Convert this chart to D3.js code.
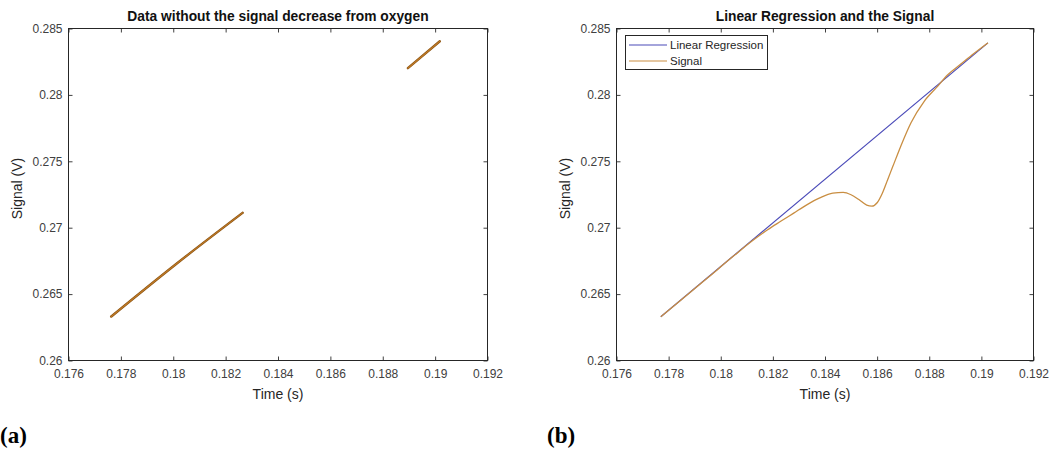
<!DOCTYPE html>
<html>
<head>
<meta charset="utf-8">
<script src="https://cdn.jsdelivr.net/npm/d3@7"></script>
<style>
  html, body { margin: 0; padding: 0; background: #fff; }
  svg { display: block; }
  text { font-family: "Liberation Sans", Arial, sans-serif; }
</style>
</head>
<body>
<svg id="fig" width="1056" height="450"></svg>
<script>
// Shared axis ranges and tick values
const xTicks = [0.176, 0.178, 0.18, 0.182, 0.184, 0.186, 0.188, 0.19, 0.192];
const yTicks = [0.26, 0.265, 0.27, 0.275, 0.28, 0.285];
const xTickLabels = ["0.176", "0.178", "0.18", "0.182", "0.184", "0.186", "0.188", "0.19", "0.192"];
const yTickLabels = ["0.26", "0.265", "0.27", "0.275", "0.28", "0.285"];

// (a) signal with the oxygen dip removed: two remaining pieces
const baselineEarly = [
  [0.17763, 0.26331], [0.1801, 0.26725], [0.18265, 0.27112]
];
const baselineLate = [
  [0.18896, 0.28201], [0.19018, 0.28404]
];

// (b) linear regression through the baseline, and the full signal
const regression = [[0.1777, 0.2633], [0.19025, 0.28392]];
const signal = [
  [0.1777, 0.2633], [0.1785, 0.26459], [0.1795, 0.26623], [0.1805, 0.26788],
  [0.1812, 0.26900], [0.1818, 0.26985], [0.1823, 0.27048], [0.1828, 0.27110],
  [0.1833, 0.27172], [0.1838, 0.27224], [0.1843, 0.27260], [0.1847, 0.27266],
  [0.1850, 0.27248], [0.1853, 0.27212], [0.1856, 0.27170], [0.1858, 0.27162],
  [0.1860, 0.27188], [0.1862, 0.27260], [0.1864, 0.27360], [0.1866, 0.27460],
  [0.1869, 0.27610], [0.1873, 0.27790], [0.1878, 0.27950], [0.1883, 0.28060],
  [0.1887, 0.28150], [0.1892, 0.28230], [0.1897, 0.28310], [0.19025, 0.28392]
];

const svg = d3.select("#fig");
const frameColor = "#262626";
const tickColor = "#404040";
const sansFont = "'Liberation Sans', Arial, sans-serif";

function drawPanel(opts) {
  const { left, right, top, bottom, title, tag, tagX } = opts;
  const x = d3.scaleLinear().domain([0.176, 0.192]).range([left, right]);
  const y = d3.scaleLinear().domain([0.26, 0.285]).range([bottom, top]);
  const g = svg.append("g");

  // bottom and left axes with labels, ticks pointing inward
  const xAxis = d3.axisBottom(x).tickValues(xTicks)
    .tickFormat((d, i) => xTickLabels[i]).tickSizeInner(-4).tickSizeOuter(0).tickPadding(9);
  const gx = g.append("g").attr("transform", `translate(0,${bottom})`).call(xAxis);
  const yAxis = d3.axisLeft(y).tickValues(yTicks)
    .tickFormat((d, i) => yTickLabels[i]).tickSizeInner(-4).tickSizeOuter(0).tickPadding(6);
  const gy = g.append("g").attr("transform", `translate(${left},0)`).call(yAxis);
  // top and right ticks (boxed axes)
  const gt = g.append("g").attr("transform", `translate(0,${top})`)
    .call(d3.axisTop(x).tickValues(xTicks).tickFormat("").tickSizeInner(-4).tickSizeOuter(0));
  const gr = g.append("g").attr("transform", `translate(${right},0)`)
    .call(d3.axisRight(y).tickValues(yTicks).tickFormat("").tickSizeInner(-4).tickSizeOuter(0));

  [gx, gy, gt, gr].forEach(a => {
    a.select(".domain").remove();
    a.selectAll(".tick line").attr("stroke", tickColor).attr("stroke-width", 1);
    a.selectAll(".tick text").attr("fill", "#404040").style("font-size", "12px")
      .style("font-family", sansFont);
  });
  gy.selectAll(".tick text").attr("dy", "0.32em");

  // frame
  g.append("rect").attr("x", left).attr("y", top)
    .attr("width", right - left).attr("height", bottom - top)
    .attr("fill", "none").attr("stroke", frameColor).attr("stroke-width", 1);

  // titles and labels
  g.append("text").attr("x", (left + right) / 2).attr("y", top - 7.5)
    .attr("text-anchor", "middle").style("font-size", "13.8px").style("font-weight", "bold")
    .style("font-family", sansFont).attr("fill", "#111").text(title);
  g.append("text").attr("x", (left + right) / 2).attr("y", bottom + 38)
    .attr("text-anchor", "middle").style("font-size", "14px").style("font-family", sansFont)
    .attr("fill", "#262626").text("Time (s)");
  g.append("text")
    .attr("transform", `translate(${left - 47},${(top + bottom) / 2 - 6}) rotate(-90)`)
    .attr("text-anchor", "middle").style("font-size", "14px").style("font-family", sansFont)
    .attr("fill", "#262626").text("Signal (V)");
  g.append("text").attr("x", tagX).attr("y", 443)
    .style("font-family", "'Liberation Serif', 'DejaVu Serif', serif")
    .style("font-size", "23px").style("font-weight", "bold").attr("fill", "#000").text(tag);

  return { g, x, y };
}

// Panel (a)
const pa = drawPanel({ left: 68.5, right: 487.5, top: 28.5, bottom: 360.5,
  title: "Data without the signal decrease from oxygen", tag: "(a)", tagX: 0 });
const lineA = d3.line().x(d => pa.x(d[0])).y(d => pa.y(d[1])).curve(d3.curveMonotoneX);
[baselineEarly, baselineLate].forEach(seg => {
  pa.g.append("path").attr("d", lineA(seg)).attr("fill", "none")
    .attr("stroke", "#8a5414").attr("stroke-width", 2.4).attr("stroke-linecap", "round");
  pa.g.append("path").attr("d", lineA(seg)).attr("fill", "none")
    .attr("stroke", "#c07a26").attr("stroke-width", 1.1).attr("stroke-linecap", "round");
});

// Panel (b)
const pb = drawPanel({ left: 616.5, right: 1033.5, top: 28.5, bottom: 360.5,
  title: "Linear Regression and the Signal", tag: "(b)", tagX: 547 });
const lineB = d3.line().x(d => pb.x(d[0])).y(d => pb.y(d[1]));
const lineSmooth = d3.line().x(d => pb.x(d[0])).y(d => pb.y(d[1])).curve(d3.curveMonotoneX);
pb.g.append("path").attr("d", lineB(regression)).attr("fill", "none")
  .attr("stroke", "#4a4ab8").attr("stroke-width", 1.2);
pb.g.append("path").attr("d", lineSmooth(signal)).attr("fill", "none")
  .attr("stroke", "#c98e42").attr("stroke-width", 1.3);

// legend
const lg = pb.g.append("g");
lg.append("rect").attr("x", 625.5).attr("y", 35.5).attr("width", 142).attr("height", 34)
  .attr("fill", "#fff").attr("stroke", frameColor).attr("stroke-width", 1);
const legendItems = [
  { label: "Linear Regression", color: "#4a4ab8" },
  { label: "Signal", color: "#c98e42" }
];
legendItems.forEach((it, i) => {
  const cy = 45 + i * 16;
  lg.append("line").attr("x1", 629).attr("x2", 667).attr("y1", cy).attr("y2", cy)
    .attr("stroke", it.color).attr("stroke-width", 1.2);
  lg.append("text").attr("x", 670).attr("y", cy).attr("dy", "0.35em")
    .style("font-size", "11.5px").style("font-family", sansFont)
    .attr("fill", "#262626").text(it.label);
});
</script>
</body>
</html>
